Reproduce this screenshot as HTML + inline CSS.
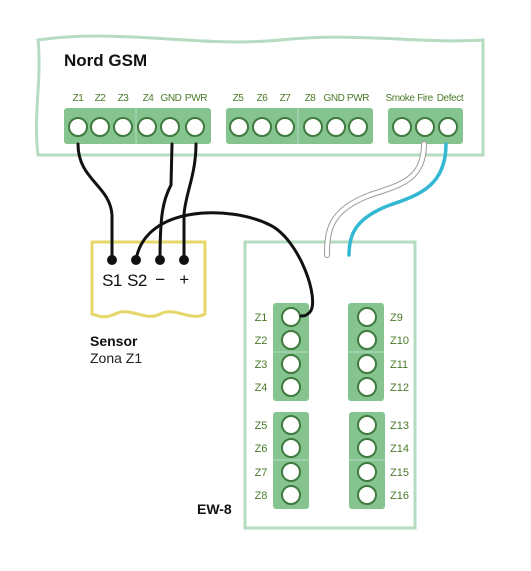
<!DOCTYPE html>
<html><head><style>
body{margin:0;background:#fff;}
svg{display:block;font-family:"Liberation Sans",sans-serif;}
</style></head><body>
<svg width="531" height="571" viewBox="0 0 531 571" xmlns="http://www.w3.org/2000/svg">
<path d="M38,40 C120,28 200,48 280,40 C360,32 420,44 483,40 L483,155 L38,155 C33,115 42,80 38,40 Z" fill="#fff" stroke="#b5dcc0" stroke-width="3"/>
<text x="64" y="66" font-size="17" font-weight="bold" fill="#111">Nord GSM</text>
<g font-size="10" fill="#4a7a2a" text-anchor="middle" letter-spacing="-0.4">
<text x="78" y="101">Z1</text><text x="100" y="101">Z2</text><text x="123" y="101">Z3</text>
<text x="148" y="101">Z4</text><text x="171" y="101">GND</text><text x="196" y="101">PWR</text>
<text x="238" y="101">Z5</text><text x="262" y="101">Z6</text><text x="285" y="101">Z7</text>
<text x="310" y="101">Z8</text><text x="334" y="101">GND</text><text x="358" y="101">PWR</text>
<text x="400" y="101">Smoke</text><text x="425" y="101">Fire</text><text x="450" y="101">Defect</text>
</g>
<g fill="#85c48f">
<rect x="64" y="108" width="147" height="36" rx="3"/>
<rect x="226" y="108" width="147" height="36" rx="3"/>
<rect x="388" y="108" width="75" height="36" rx="3"/>
</g>
<g stroke="#b5dcc0" stroke-width="1"><line x1="136" y1="108" x2="136" y2="144"/><line x1="298" y1="108" x2="298" y2="144"/></g>
<g fill="#fff" stroke="#3f7a3f" stroke-width="2">
<circle cx="78" cy="127" r="9"/><circle cx="100" cy="127" r="9"/><circle cx="123" cy="127" r="9"/>
<circle cx="147" cy="127" r="9"/><circle cx="170" cy="127" r="9"/><circle cx="195" cy="127" r="9"/>
<circle cx="239" cy="127" r="9"/><circle cx="262" cy="127" r="9"/><circle cx="285" cy="127" r="9"/>
<circle cx="313" cy="127" r="9"/><circle cx="336" cy="127" r="9"/><circle cx="358" cy="127" r="9"/>
<circle cx="402" cy="127" r="9"/><circle cx="425" cy="127" r="9"/><circle cx="448" cy="127" r="9"/>
</g>
<path d="M92,242 L205,242 L205,314 C190,322 175,306 160,314 C145,322 130,306 115,314 C105,319 98,316 92,314 Z" fill="#fff" stroke="#e5d76a" stroke-width="3"/>
<g font-size="17" fill="#111" text-anchor="middle" letter-spacing="-0.5">
<text x="112" y="286">S1</text><text x="137" y="286">S2</text><text x="160" y="285">−</text><text x="184" y="285">+</text>
</g>
<text x="90" y="346" font-size="14" font-weight="bold" fill="#111">Sensor</text>
<text x="90" y="363" font-size="14" fill="#222">Zona Z1</text>
<rect x="245" y="242" width="170" height="286" fill="#fff" stroke="#b5dcc0" stroke-width="3"/>
<text x="197" y="514" font-size="14" font-weight="bold" fill="#111">EW-8</text>
<g fill="#85c48f">
<rect x="273" y="303" width="36" height="98" rx="3"/><rect x="273" y="412" width="36" height="97" rx="3"/>
<rect x="348" y="303" width="36" height="98" rx="3"/><rect x="349" y="412" width="36" height="97" rx="3"/>
</g>
<g stroke="#b5dcc0"><line x1="273" y1="352" x2="309" y2="352"/><line x1="273" y1="460" x2="309" y2="460"/><line x1="348" y1="352" x2="384" y2="352"/><line x1="349" y1="460" x2="385" y2="460"/></g>
<g fill="#fff" stroke="#3f7a3f" stroke-width="2">
<circle cx="291" cy="317" r="9"/><circle cx="291" cy="340" r="9"/><circle cx="291" cy="364" r="9"/><circle cx="291" cy="387" r="9"/>
<circle cx="291" cy="425" r="9"/><circle cx="291" cy="448" r="9"/><circle cx="291" cy="472" r="9"/><circle cx="291" cy="495" r="9"/>
<circle cx="367" cy="317" r="9"/><circle cx="367" cy="340" r="9"/><circle cx="367" cy="364" r="9"/><circle cx="367" cy="387" r="9"/>
<circle cx="367" cy="425" r="9"/><circle cx="367" cy="448" r="9"/><circle cx="367" cy="472" r="9"/><circle cx="367" cy="495" r="9"/>
</g>
<g font-size="11" fill="#4a7a2a" text-anchor="middle">
<text x="261" y="321">Z1</text><text x="261" y="344">Z2</text><text x="261" y="368">Z3</text><text x="261" y="391">Z4</text>
<text x="261" y="429">Z5</text><text x="261" y="452">Z6</text><text x="261" y="476">Z7</text><text x="261" y="499">Z8</text>
</g>
<g font-size="11" fill="#4a7a2a">
<text x="390" y="321">Z9</text><text x="390" y="344">Z10</text><text x="390" y="368">Z11</text><text x="390" y="391">Z12</text>
<text x="390" y="429">Z13</text><text x="390" y="452">Z14</text><text x="390" y="476">Z15</text><text x="390" y="499">Z16</text>
</g>
<g fill="none" stroke="#111" stroke-width="3" stroke-linecap="round">
<path d="M78,144 C78,180 110,185 112,215 L112,260"/>
<path d="M172,144 L171,185 C163,200 160,215 160,260"/>
<path d="M196,144 C196,175 185,195 184,215 L184,260"/>
<path d="M136,260 C145,205 230,205 270,225 C300,240 320,300 310,312 C306,316 304,316 301,316"/>
</g>
<path d="M424,144 C424,180 400,185 370,195 C330,210 327,230 327,255" fill="none" stroke="#999" stroke-width="6" stroke-linecap="round"/>
<path d="M424,144 C424,180 400,185 370,195 C330,210 327,230 327,255" fill="none" stroke="#fff" stroke-width="4" stroke-linecap="round"/>
<path d="M446,144 C446,185 420,195 390,205 C355,218 349,235 349,255" fill="none" stroke="#33b8d3" stroke-width="3.5" stroke-linecap="round"/>
<g fill="#111"><circle cx="112" cy="260" r="5"/><circle cx="136" cy="260" r="5"/><circle cx="160" cy="260" r="5"/><circle cx="184" cy="260" r="5"/></g>
</svg>
</body></html>
